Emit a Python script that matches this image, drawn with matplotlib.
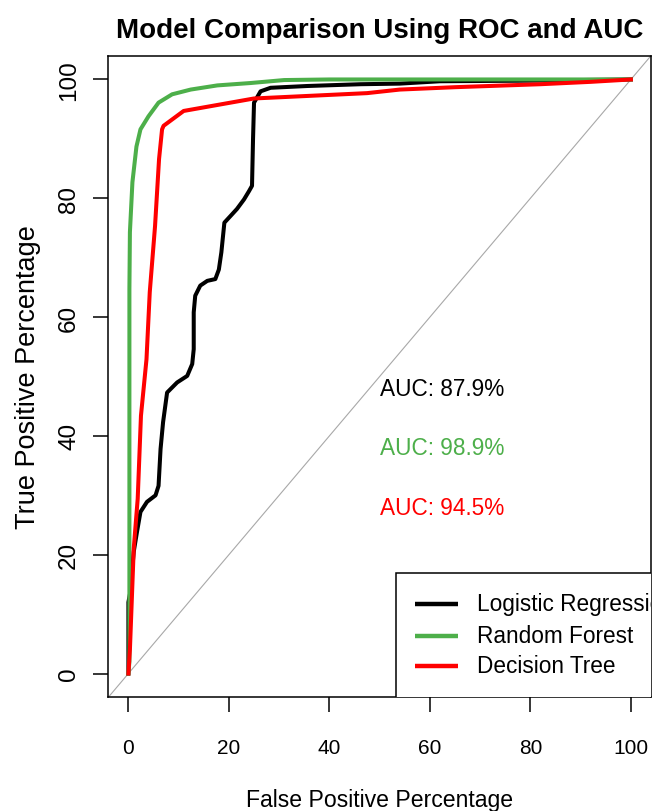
import matplotlib
matplotlib.use("Agg")
from matplotlib import pyplot as plt
from matplotlib.patches import Rectangle

plt.rcParams["font.family"] = ["Liberation Sans", "DejaVu Sans"]

### DATA
lr_fpr = [0, 0, 0.4, 0.6, 1.06, 1.7, 2.4, 3.7, 5.4, 6.0, 6.4, 6.9, 7.7, 9.7, 11.7, 12.7,
          13.0, 13.0, 13.3, 14.3, 15.7, 17.3, 18.0, 18.5, 19.1, 20.3, 21.6, 23.0, 24.0,
          24.6, 24.8, 25.0, 26.3, 28.3, 35.6, 46.2, 54, 62, 80, 100]
lr_tpr = [0, 12, 13.8, 16, 20.5, 23.8, 27.2, 28.9, 30.0, 31.6, 37.8, 42.3, 47.3, 49.0, 50.1,
          52.1, 54.6, 60.8, 63.6, 65.3, 66.1, 66.4, 68.0, 70.9, 75.9, 77.0, 78.2, 79.8,
          81.2, 82.1, 89.9, 96.1, 98.0, 98.6, 98.9, 99.2, 99.3, 99.7, 99.8, 100]

rf_fpr = [0, 0.2, 0.2, 0.3, 0.8, 1.6, 2.4, 4.0, 6.0, 8.7, 12.4, 17.7, 24.3, 31, 40, 100]
rf_tpr = [0, 2, 64.7, 74.3, 82.7, 88.7, 91.6, 93.8, 96.1, 97.5, 98.3, 99.0, 99.4, 99.9, 100, 100]

dt_fpr = [0, 0.3, 1.06, 1.85, 2.5, 3.6, 4.25, 5.3, 6.1, 6.7, 7.0, 11.0, 25, 35, 47.5, 54,
          65, 82, 92, 100]
dt_tpr = [0, 4, 21, 29.4, 43.4, 52.9, 64.2, 75.3, 86.6, 91.6, 92.2, 94.7, 96.8, 97.2, 97.7,
          98.3, 98.7, 99.2, 99.6, 100]

models = ["Logistic Regression", "Random Forest", "Decision Tree"]
colors = ["black", "#4DAF4A", "red"]
auc_values = [87.9, 98.9, 94.5]
auc_y = [48, 38, 28]
ticks = [0, 20, 40, 60, 80, 100]

### PLOT
fig = plt.figure(figsize=(6.67, 8.12), dpi=100)
ax = fig.add_axes([108.3 / 667, (812 - 698.3) / 812, 542.7 / 667, 641.6 / 812])

ax.axline((0, 0), slope=1, color="#A8A8A8", lw=0.8)

curves = [(lr_fpr, lr_tpr), (rf_fpr, rf_tpr), (dt_fpr, dt_tpr)]
for (fpr, tpr), c in zip(curves, colors):
    ax.plot(fpr, tpr, color=c, lw=2.9, solid_joinstyle="round")

# AUC labels
for auc, y, c in zip(auc_values, auc_y, colors):
    ax.text(50, y, f"AUC: {auc}%", color=c, fontsize=16.3, ha="left", va="center")

ax.set_xlim(-4, 104)
ax.set_ylim(-4, 104)
ax.set_xticks(ticks)
ax.set_yticks(ticks)
ax.tick_params(direction="out", length=10.8, width=1.1, color="black")
ax.tick_params(axis="x", labelsize=15, pad=18.5)
ax.tick_params(axis="y", labelsize=17.5, pad=9.5)
for lab in ax.get_yticklabels():
    lab.set_rotation(90)
    lab.set_va("center")
for s in ax.spines.values():
    s.set_linewidth(1.1)

# legend box, bottom right, clipped by the plot region like the original
ax.add_patch(Rectangle((0.530, -0.01), 0.6, 0.204, transform=ax.transAxes,
                       facecolor="white", edgecolor="black", lw=1.1, zorder=5,
                       clip_on=True))
leg_rows = [0.1456, 0.0956, 0.0488]
for name, c, yy in zip(models, colors, leg_rows):
    ax.plot([0.565, 0.644], [yy, yy], color=c, lw=3.2, transform=ax.transAxes,
            zorder=6, solid_capstyle="butt")
    t = ax.text(0.679, yy, name, fontsize=16.3, ha="left", va="center",
                transform=ax.transAxes, zorder=6)
    t.set_clip_on(True)
    t.set_clip_box(ax.bbox)

fig.text(379.5 / 667, 1 - 38 / 812, "Model Comparison Using ROC and AUC",
         fontsize=20, fontweight="bold", ha="center", va="baseline")
fig.text(379.5 / 667, 1 - 807 / 812, "False Positive Percentage",
         fontsize=16.6, ha="center", va="baseline")
fig.text(28 / 667, 1 - 377.5 / 812, "True Positive Percentage",
         fontsize=19.5, ha="center", va="center", rotation=90)

fig.savefig("out.png", dpi=100)
